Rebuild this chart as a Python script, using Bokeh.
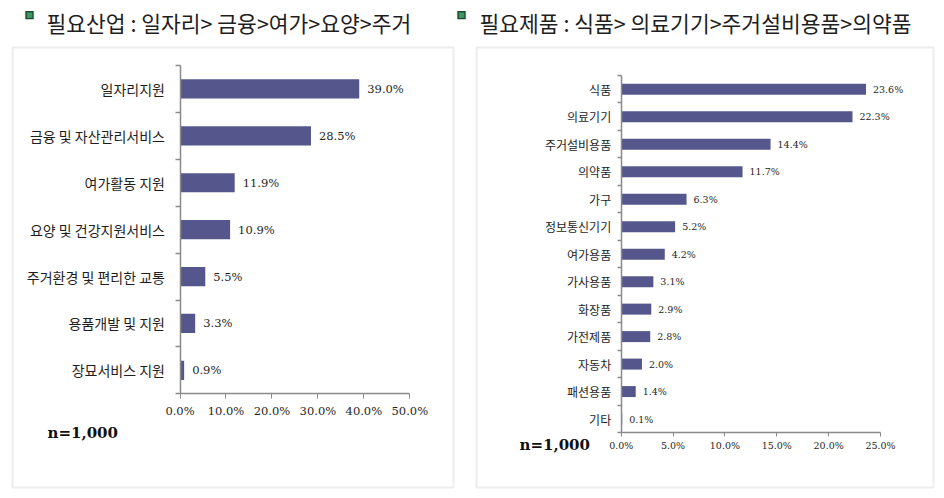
from bokeh.plotting import figure
from bokeh.models import Range1d, LinearAxis, FixedTicker, PrintfTickFormatter, Label, BoxAnnotation
from bokeh.layouts import row
from bokeh.core.properties import value
from bokeh.embed import file_html
from bokeh.resources import INLINE

# ---------------- data ----------------
title_left = "필요산업 : 일자리> 금융>여가>요양>주거"
cats_left = ["일자리지원", "금융 및 자산관리서비스", "여가활동 지원", "요양 및 건강지원서비스",
             "주거환경 및 편리한 교통", "용품개발 및 지원", "장묘서비스 지원"]
vals_left = [39.0, 28.5, 11.9, 10.9, 5.5, 3.3, 0.9]
ticks_left = [0, 10, 20, 30, 40, 50]

title_right = "필요제품 : 식품> 의료기기>주거설비용품>의약품"
cats_right = ["식품", "의료기기", "주거설비용품", "의약품", "가구", "정보통신기기", "여가용품",
              "가사용품", "화장품", "가전제품", "자동차", "패션용품", "기타"]
vals_right = [23.6, 22.3, 14.4, 11.7, 6.3, 5.2, 4.2, 3.1, 2.9, 2.8, 2.0, 1.4, 0.1]
ticks_right = [0, 5, 10, 15, 20, 25]

sample_note = "n=1,000"

BAR = "#55578c"
AXIS = "#8a8a8a"
BORDER = "#c4c4c4"
TXT = "#1e1e1e"
KFONT = "Noto Sans CJK KR"
SFONT = "DejaVu Serif"
FIG_H = 498


def panel(cats, vals, ticks, title, fig_x0, fig_w, box, axis_x0, axis_xmax, axis_top, axis_bottom,
          cat_fs, num_fs, tick_out, lab_std, cat_std, val_off, bar_h, note_xy, bullets, title_xy):
    """Positions are page pixels: box = (left, top, right, bottom) of the panel border,
    axis_x0 / axis_xmax = x of 0 and of last tick, axis_top/bottom = y of category axis ends."""
    n = len(cats)
    xmax = ticks[-1]
    ppx = (axis_xmax - axis_x0) / xmax
    ppy = (axis_bottom - axis_top) / n

    def dx(px):
        return (px - axis_x0) / ppx

    def dy(py):
        return -0.5 + (axis_bottom - py) / ppy

    p = figure(width=fig_w, height=FIG_H, output_backend="svg", toolbar_location=None,
               x_range=Range1d(dx(fig_x0), dx(fig_x0 + fig_w)), y_range=Range1d(dy(FIG_H), dy(0)),
               x_axis_type=None, y_axis_type=None,
               min_border_left=0, min_border_right=0, min_border_top=0, min_border_bottom=0)
    p.grid.visible = False
    p.outline_line_color = None
    p.background_fill_color = "white"
    p.border_fill_color = "white"

    L, T, R, B = box
    p.add_layout(BoxAnnotation(left=dx(L), right=dx(R), top=dy(T), bottom=dy(B),
                               fill_color=None, line_color=BORDER, line_width=2, level="underlay"))

    ys = [n - 1 - i for i in range(n)]
    p.hbar(y=ys, left=0, right=vals, height=bar_h, fill_color=BAR, line_color=None)
    p.text(x=vals, y=ys, text=[f"{v:.1f}%" for v in vals], x_offset=val_off,
           text_baseline="middle", text_align="left", text_font=value(SFONT),
           text_font_size=f"{num_fs}px", text_color=TXT)

    # value axis
    xa = LinearAxis(fixed_location=-0.5, ticker=FixedTicker(ticks=ticks),
                    formatter=PrintfTickFormatter(format="%.1f%%"), bounds=(0, xmax))
    xa.axis_line_color = AXIS
    xa.axis_line_width = 1.5
    xa.major_tick_line_color = AXIS
    xa.major_tick_out = tick_out
    xa.major_tick_in = 0
    xa.minor_tick_line_color = None
    xa.major_label_standoff = lab_std
    xa.major_label_text_font = SFONT
    xa.major_label_text_font_size = f"{num_fs}px"
    xa.major_label_text_color = TXT
    p.add_layout(xa, "below")

    # category axis: labels at centres (major), tick marks at boundaries (minor)
    ya = LinearAxis(fixed_location=0,
                    ticker=FixedTicker(ticks=ys, minor_ticks=[k - 0.5 for k in range(n + 1)]),
                    major_label_overrides={y: c for y, c in zip(ys, cats)},
                    bounds=(-0.5, n - 0.5))
    ya.axis_line_color = AXIS
    ya.axis_line_width = 1.5
    ya.major_tick_line_color = None
    ya.major_tick_out = 0
    ya.major_tick_in = 0
    ya.minor_tick_line_color = AXIS
    ya.minor_tick_line_width = 1.5
    ya.minor_tick_out = tick_out
    ya.minor_tick_in = 0
    ya.major_label_standoff = cat_std
    ya.major_label_text_font = KFONT
    ya.major_label_text_font_size = f"{cat_fs}px"
    ya.major_label_text_color = TXT
    p.add_layout(ya, "left")

    def sx(px):
        return px - fig_x0

    def sy(py):
        return FIG_H - py

    p.add_layout(Label(x=sx(note_xy[0]), y=sy(note_xy[1]), x_units="screen", y_units="screen",
                       text=sample_note, text_font=SFONT, text_font_style="bold",
                       text_font_size="15px", text_color="#111111", text_baseline="middle"))
    for bx, by in bullets:
        p.add_layout(Label(x=sx(bx), y=sy(by), x_units="screen", y_units="screen",
                           text="■", text_font="DejaVu Sans", text_font_size="11px",
                           text_color="#1f4a33", text_align="center", text_baseline="middle"))
        p.add_layout(Label(x=sx(bx), y=sy(by), x_units="screen", y_units="screen",
                           text="■", text_font="DejaVu Sans", text_font_size="7px",
                           text_color="#3d9a63", text_align="center", text_baseline="middle"))
    p.add_layout(Label(x=sx(title_xy[0]), y=sy(title_xy[1]), x_units="screen", y_units="screen",
                       text=title, text_font=KFONT, text_font_size="21.5px",
                       text_color=TXT, text_baseline="middle", text_align="left"))
    return p


p1 = panel(cats_left, vals_left, ticks_left, title_left,
           fig_x0=0, fig_w=470, box=(12, 47, 453, 487),
           axis_x0=179.5, axis_xmax=409.3, axis_top=65, axis_bottom=393.3,
           cat_fs=14, num_fs=11.5, tick_out=5, lab_std=5, cat_std=10, val_off=8, bar_h=0.41,
           note_xy=(47, 432), bullets=[(29, 14), (461, 14)], title_xy=(46, 22))

p2 = panel(cats_right, vals_right, ticks_right, title_right,
           fig_x0=470, fig_w=474, box=(476, 47, 933, 487),
           axis_x0=620.7, axis_xmax=880.0, axis_top=75, axis_bottom=432.3,
           cat_fs=12, num_fs=9.5, tick_out=4, lab_std=3, cat_std=6, val_off=7, bar_h=0.4,
           note_xy=(519, 444), bullets=[], title_xy=(479, 22))

layout = row(p1, p2)
open("out.html", "w").write(file_html(layout, INLINE))
